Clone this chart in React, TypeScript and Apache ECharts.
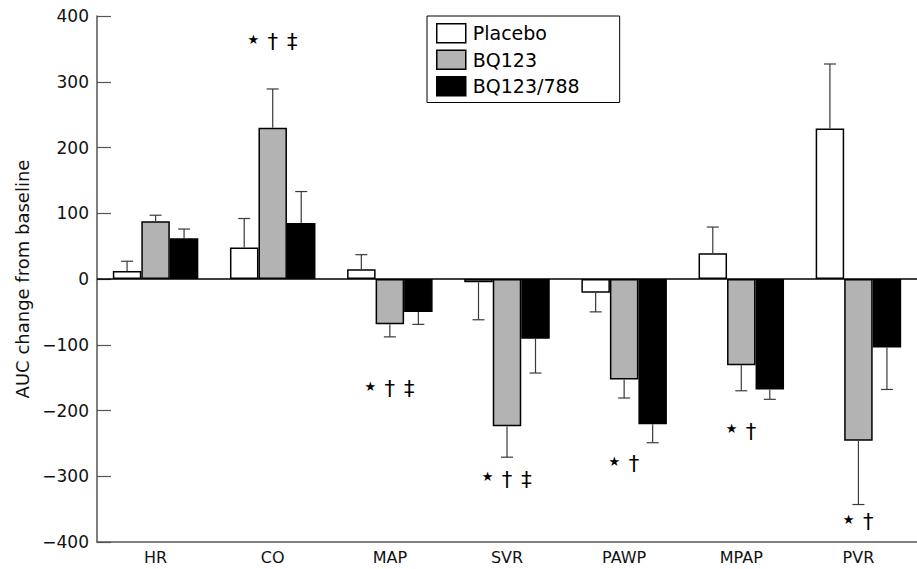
import React, { useEffect, useRef } from "react";
import * as echarts from "echarts";

const categories = ["HR", "CO", "MAP", "SVR", "PAWP", "MPAP", "PVR"];
const seriesNames = ["Placebo", "BQ123", "BQ123/788"];
const placeboValues = [12, 48, 15, -5, -21, 39, 229];
const placeboErrors = [15, 44, 22, 57, 29, 40, 98];
const bq123Values = [88, 230, -69, -224, -153, -131, -246];
const bq123Errors = [9, 59, 19, 47, 28, 39, 97];
const bq788Values = [62, 85, -50, -91, -221, -168, -104];
const bq788Errors = [14, 48, 19, 52, 28, 15, 64];
const yTicks = [-400, -300, -200, -100, 0, 100, 200, 300, 400];
const annotCategories = [1, 2, 3, 4, 5, 6];
const annotY = [360, -168, -305, -282, -232, -370];
const annotSymbols = [
  ["★", "†", "‡"],
  ["★", "†", "‡"],
  ["★", "†", "‡"],
  ["★", "†"],
  ["★", "†"],
  ["★", "†"],
];

const FONT = "DejaVu Sans";
const GAP = 0.27;

export default function App() {
  const ref = useRef<HTMLDivElement>(null);
  useEffect(() => {
    if (!ref.current) return;
    const chart = echarts.init(ref.current, null, { renderer: "svg" });
    const valuesList = [placeboValues, bq123Values, bq788Values];
    const errList = [placeboErrors, bq123Errors, bq788Errors];
    const fills = ["#ffffff", "#b3b3b3", "#000000"];

    const barSeries = seriesNames.map((name, k) => ({
      name,
      type: "bar",
      data: valuesList[k],
      barGap: "0%",
      barCategoryGap: GAP * 100 + "%",
      itemStyle: { color: fills[k], borderColor: "#000", borderWidth: 1.5 },
      z: 2,
      ...(k === 0
        ? {
            markLine: {
              silent: true,
              symbol: "none",
              label: { show: false },
              lineStyle: { color: "#000", width: 1.5, type: "solid" },
              data: [{ yAxis: 0 }],
              z: 3,
            },
          }
        : {}),
    }));

    const errSeries = seriesNames.map((name, k) => ({
      type: "custom",
      name: name + "-err",
      z: 5,
      silent: true,
      data: valuesList[k].map((v, i) => [
        i,
        v,
        v + (v >= 0 ? 1 : -1) * errList[k][i],
      ]),
      encode: { x: 0, y: [1, 2] },
      renderItem: (params: any, api: any) => {
        const idx = api.value(0);
        const v = api.value(1);
        const e = api.value(2);
        const band = api.size([1, 0])[0];
        const bw = (band * (1 - GAP)) / 3;
        const cx = api.coord([idx, 0])[0] + (k - 1) * bw;
        const y0 = api.coord([idx, v])[1];
        const y1 = api.coord([idx, e])[1];
        const style = { stroke: "#3a3a3a", lineWidth: 1.2 };
        return {
          type: "group",
          children: [
            { type: "line", shape: { x1: cx, y1: y0, x2: cx, y2: y1 }, style },
            { type: "line", shape: { x1: cx - 6, y1: y1, x2: cx + 6, y2: y1 }, style },
          ],
        };
      },
    }));

    const annotSeries = {
      type: "custom",
      name: "annot",
      z: 6,
      silent: true,
      data: annotCategories.map((c, i) => [c, annotY[i]]),
      encode: { x: 0, y: 1 },
      renderItem: (params: any, api: any) => {
        const idx = api.value(0);
        const yv = api.value(1);
        const [cx, cy] = api.coord([idx, yv]);
        const syms = annotSymbols[params.dataIndex];
        const n = syms.length;
        const step = 19.5;
        return {
          type: "group",
          children: syms.map((s: string, j: number) => ({
            type: "text",
            x: cx + (j - (n - 1) / 2) * step,
            y: s === "★" ? cy - 3 : cy,
            style: {
              text: s,
              fontSize: s === "★" ? 13 : 21,
              fontFamily: FONT,
              fill: "#000",
              align: "center",
              verticalAlign: "middle",
            },
          })),
        };
      },
    };

    chart.setOption({
      animation: false,
      backgroundColor: "#fff",
      grid: { left: 97, right: -9, top: 16, bottom: 27, containLabel: false },
      legend: {
        data: seriesNames,
        orient: "vertical",
        left: 427,
        top: 16,
        width: 168,
        padding: [7, 40, 6, 9],
        itemGap: 6,
        itemWidth: 29,
        itemHeight: 19,
        icon: "rect",
        borderColor: "#000",
        borderWidth: 1,
        backgroundColor: "#fff",
        itemStyle: { borderColor: "#000", borderWidth: 1.5 },
        textStyle: { fontFamily: FONT, fontSize: 19, color: "#000", padding: [0, 0, 0, 2] },
      },
      xAxis: {
        type: "category",
        data: categories,
        position: "bottom",
        axisLine: { onZero: false, lineStyle: { color: "#555", width: 1.5 } },
        axisTick: { inside: true, length: 14, lineStyle: { color: "#555", width: 1.2 } },
        axisLabel: { fontFamily: FONT, fontSize: 16, color: "#111", margin: 7 },
      },
      yAxis: {
        type: "value",
        min: yTicks[0],
        max: yTicks[yTicks.length - 1],
        interval: 100,
        name: "AUC change from baseline",
        nameLocation: "middle",
        nameGap: 62,
        nameTextStyle: { fontFamily: FONT, fontSize: 18, color: "#111" },
        splitLine: { show: false },
        axisLine: { show: true, lineStyle: { color: "#555", width: 1.5 } },
        axisTick: { show: true, inside: true, length: 14, lineStyle: { color: "#555", width: 1.2 } },
        axisLabel: {
          fontFamily: FONT,
          fontSize: 17,
          color: "#111",
          margin: 8,
          formatter: (v: number) => (v < 0 ? "\u2212" + Math.abs(v) : String(v)),
        },
      },
      series: [...barSeries, ...errSeries, annotSeries],
    });
    return () => chart.dispose();
  }, []);
  return (
    <div
      ref={ref}
      style={{ position: "absolute", left: 0, top: 0, width: 917, height: 569 }}
    />
  );
}
